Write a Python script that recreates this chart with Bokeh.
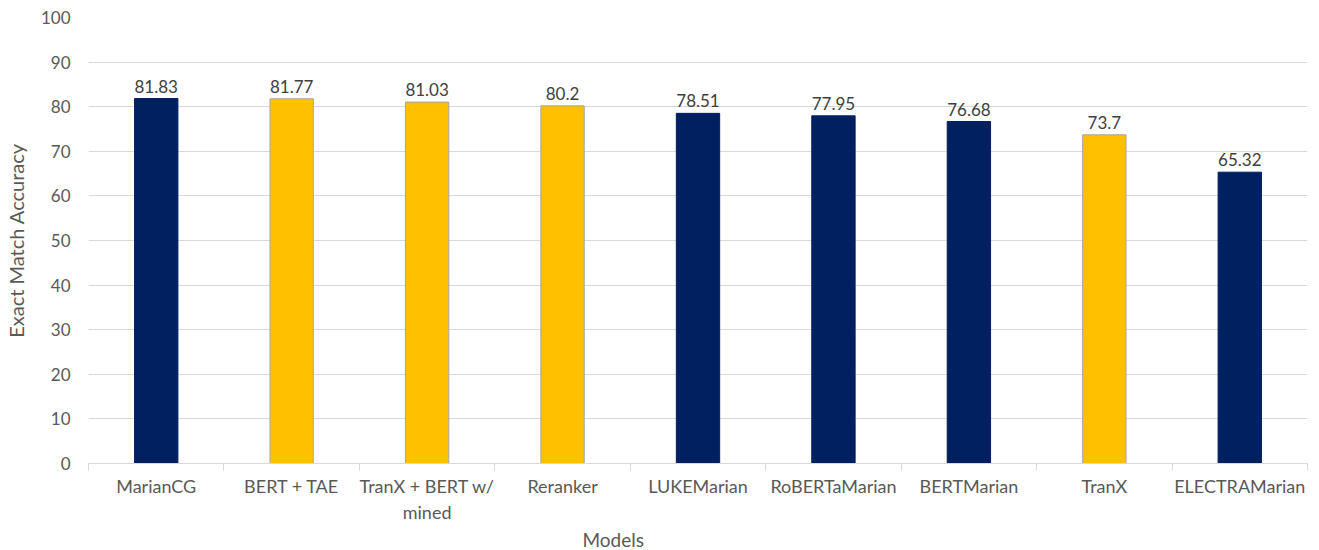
from bokeh.plotting import figure
from bokeh.models import FixedTicker, Range1d, Title, ColumnDataSource, LabelSet
from bokeh.core.properties import value
from bokeh.embed import file_html
from bokeh.resources import INLINE

models = ["MarianCG", "BERT + TAE", "TranX + BERT w/\nmined", "Reranker", "LUKEMarian",
          "RoBERTaMarian", "BERTMarian", "TranX", "ELECTRAMarian"]
accuracy = [81.83, 81.77, 81.03, 80.2, 78.51, 77.95, 76.68, 73.7, 65.32]
value_labels = ["81.83", "81.77", "81.03", "80.2", "78.51", "77.95", "76.68", "73.7", "65.32"]
group = ["ours", "other", "other", "other", "ours", "ours", "ours", "other", "ours"]
y_ticks = [0, 10, 20, 30, 40, 50, 60, 70, 80, 90, 100]

NAVY = "#002060"
GOLD = "#FFC000"
FONT = "Lato"
GRAY = "#595959"

xs = [i + 0.5 for i in range(len(models))]
colors = [NAVY if g == "ours" else GOLD for g in group]
outlines = [NAVY if g == "ours" else "#A5A5A5" for g in group]

src = ColumnDataSource(dict(x=xs, top=accuracy, color=colors, line=outlines, lab=value_labels))

p = figure(width=1319, height=550, output_backend="svg", toolbar_location=None,
           x_range=Range1d(0, len(models)), y_range=Range1d(0, 100),
           min_border_left=88, min_border_right=12, min_border_top=17, min_border_bottom=10)
p.outline_line_color = None
p.background_fill_color = "white"

p.vbar(x="x", top="top", width=0.32, fill_color="color", line_color="line", line_width=1, source=src)

labels = LabelSet(x="x", y="top", text="lab", source=src, text_align="center", text_baseline="bottom",
                  y_offset=6, text_font=value(FONT), text_font_size=value("17px"),
                  text_color=value("#404040"))
p.add_layout(labels)

# x axis
p.xaxis.ticker = FixedTicker(ticks=xs, minor_ticks=list(range(len(models) + 1)))
p.xaxis.major_label_overrides = {x: m for x, m in zip(xs, models)}
p.xaxis.major_tick_line_color = None
p.xaxis.major_tick_out = 0
p.xaxis.major_tick_in = 0
p.xaxis.minor_tick_line_color = "#D9D9D9"
p.xaxis.minor_tick_in = 0
p.xaxis.minor_tick_out = 7
p.xaxis.axis_line_color = "#D9D9D9"
p.xaxis.major_label_text_font = FONT
p.xaxis.major_label_text_font_size = "18px"
p.xaxis.major_label_text_color = GRAY
p.xaxis.major_label_standoff = 4
p.xgrid.grid_line_color = None

# y axis
p.yaxis.ticker = FixedTicker(ticks=y_ticks)
p.yaxis.axis_line_color = None
p.yaxis.major_tick_line_color = None
p.yaxis.major_tick_out = 0
p.yaxis.major_tick_in = 0
p.yaxis.minor_tick_line_color = None
p.yaxis.major_label_text_font = FONT
p.yaxis.major_label_text_font_size = "17px"
p.yaxis.major_label_text_color = GRAY
p.yaxis.major_label_standoff = 18
p.yaxis.axis_label = "Exact Match Accuracy"
p.yaxis.axis_label_text_font = FONT
p.yaxis.axis_label_text_font_size = "20px"
p.yaxis.axis_label_text_font_style = "normal"
p.yaxis.axis_label_text_color = GRAY
p.yaxis.axis_label_standoff = 10
p.ygrid.grid_line_color = "#D9D9D9"
p.ygrid.grid_line_width = 1

p.add_layout(Title(text="Models", align="left", offset=494, text_font=FONT, text_font_size="19px",
                   text_font_style="normal", text_color=GRAY, standoff=0, text_line_height=0.75),
             "below")

open("out.html", "w").write(file_html(p, INLINE))
